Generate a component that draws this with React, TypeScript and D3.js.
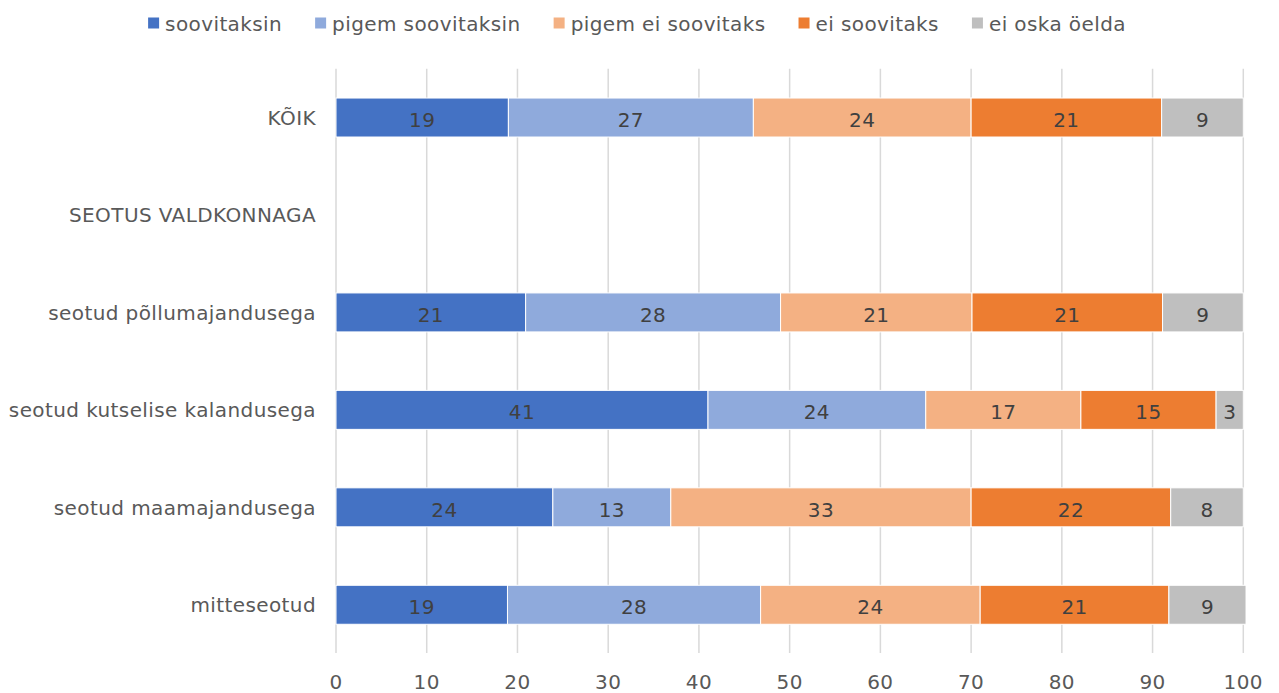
import React from "react";
import * as d3 from "d3";

const categories = [
  "KÕIK",
  "SEOTUS VALDKONNAGA",
  "seotud põllumajandusega",
  "seotud kutselise kalandusega",
  "seotud maamajandusega",
  "mitteseotud",
];

const seriesNames = ["soovitaksin", "pigem soovitaksin", "pigem ei soovitaks", "ei soovitaks", "ei oska öelda"];
const seriesColors = ["#4472C4", "#8FAADC", "#F4B183", "#ED7D31", "#BFBFBF"];

const soovitaksin = [19, null, 20.9, 41.0, 23.9, 18.9];
const pigemSoovitaksin = [27, null, 28.1, 24.0, 13.0, 27.9];
const pigemEiSoovitaks = [24, null, 21.1, 17.1, 33.1, 24.2];
const eiSoovitaks = [21, null, 21.0, 14.9, 22.0, 20.8];
const eiOskaOelda = [9, null, 8.9, 3.0, 8.0, 8.5];

const seriesValues = [soovitaksin, pigemSoovitaksin, pigemEiSoovitaks, eiSoovitaks, eiOskaOelda];

const xTicks = [0, 10, 20, 30, 40, 50, 60, 70, 80, 90, 100];

const W = 1279;
const H = 693;
const FONT = "DejaVu Sans, Verdana, sans-serif";
const FS = 20;
const LS = 0.4;

function measure(text: string): number {
  const c = document.createElement("canvas");
  const ctx = c.getContext("2d");
  if (!ctx) return text.length * FS * 0.55;
  ctx.font = `${FS}px "DejaVu Sans"`;
  return ctx.measureText(text).width + LS * text.length;
}

export default function App() {
  const x = d3.scaleLinear().domain([0, 100]).range([336, 1243.3]);
  const y = d3
    .scaleBand<string>()
    .domain(categories)
    .range([68.8, 653.5])
    .paddingInner(0.6)
    .paddingOuter(0.3);

  // Legend layout
  const sq = 11;
  const textOff = 17;
  const gap = 33;
  const widths = seriesNames.map((n) => measure(n));
  const total = widths.reduce((a, w) => a + textOff + w, 0) + gap * (seriesNames.length - 1);
  let lx = 637 - total / 2;
  const legendItems = seriesNames.map((n, i) => {
    const item = { name: n, color: seriesColors[i], x: lx };
    lx += textOff + widths[i] + gap;
    return item;
  });

  const rows = categories.map((cat, ci) => {
    let acc = 0;
    const segs: { x0: number; x1: number; v: number; color: string }[] = [];
    seriesValues.forEach((arr, si) => {
      const v = arr[ci];
      if (v == null) return;
      segs.push({ x0: acc, x1: acc + v, v, color: seriesColors[si] });
      acc += v;
    });
    return { cat, segs };
  });

  return (
    <svg
      width={W}
      height={H}
      style={{ position: "absolute", left: 0, top: 0, background: "#fff" }}
      fontFamily={FONT}
      letterSpacing={LS}
    >
      <rect x={0} y={0} width={W} height={H} fill="#fff" />
      {/* gridlines */}
      {xTicks.map((t) => (
        <line
          key={t}
          x1={x(t)}
          x2={x(t)}
          y1={68.8}
          y2={653}
          stroke="#d9d9d9"
          strokeWidth={1.5}
        />
      ))}
      {/* bars */}
      {rows.map((r) => {
        const y0 = y(r.cat)!;
        const bw = y.bandwidth();
        return (
          <g key={r.cat}>
            {r.segs.map((s, i) => (
              <g key={i}>
                <rect
                  x={x(s.x0)}
                  y={y0}
                  width={x(s.x1) - x(s.x0)}
                  height={bw}
                  fill={s.color}
                  stroke="#fff"
                  strokeWidth={1}
                />
                <text
                  x={(x(s.x0) + x(s.x1)) / 2}
                  y={y0 + bw / 2 + 9.5}
                  textAnchor="middle"
                  fontSize={FS}
                  fill="#404040"
                >
                  {Math.round(s.v)}
                </text>
              </g>
            ))}
          </g>
        );
      })}
      {/* category labels */}
      {categories.map((c) => (
        <text
          key={c}
          x={316}
          y={y(c)! + y.bandwidth() / 2 + 7.5}
          textAnchor="end"
          fontSize={FS}
          fill="#595959"
        >
          {c}
        </text>
      ))}
      {/* x tick labels */}
      {xTicks.map((t) => (
        <text key={t} x={x(t)} y={689} textAnchor="middle" fontSize={FS} fill="#595959">
          {t}
        </text>
      ))}
      {/* legend */}
      {legendItems.map((it) => (
        <g key={it.name}>
          <rect x={it.x} y={17.5} width={sq} height={sq} fill={it.color} />
          <text x={it.x + textOff} y={31} fontSize={FS} fill="#595959">
            {it.name}
          </text>
        </g>
      ))}
    </svg>
  );
}
